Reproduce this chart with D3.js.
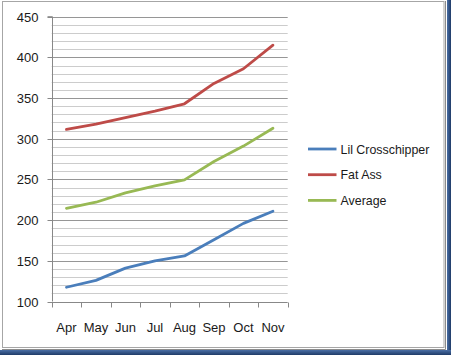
<!DOCTYPE html>
<html>
<head>
<meta charset="utf-8">
<script src="https://cdn.jsdelivr.net/npm/d3@7"></script>
<style>
html,body{margin:0;padding:0;background:#fff;}
svg{display:block;}
</style>
</head>
<body>
<svg id="chart" width="451" height="355"></svg>
<script>
const months = ["Apr","May","Jun","Jul","Aug","Sep","Oct","Nov"];
const lilCrosschipper = [117.5,126,141,150,156,176,196,211];
const fatAss = [311.5,318,326,334,343,368,386,415];
const average = [214.5,222,233.5,242,249.5,272,291,313];
const yTickLabels = [100,150,200,250,300,350,400,450];
const seriesNames = ["Lil Crosschipper","Fat Ass","Average"];
const seriesColors = ["#4A7EBB","#BE4B48","#98B954"];
const seriesValues = [lilCrosschipper, fatAss, average];

const svg = d3.select("#chart");
const W = 451, H = 355;

// frame with shadow
const shadow = svg.append("defs").append("linearGradient").attr("id","sh").attr("x1",0).attr("x2",1);
shadow.append("stop").attr("offset","0%").attr("stop-color","#4a6fa5");
shadow.append("stop").attr("offset","100%").attr("stop-color","#1f3b68");
const shadowV = svg.select("defs").append("linearGradient").attr("id","shv").attr("x1",0).attr("x2",0).attr("y1",0).attr("y2",1);
shadowV.append("stop").attr("offset","0%").attr("stop-color","#4a6fa5");
shadowV.append("stop").attr("offset","100%").attr("stop-color","#1f3b68");
svg.append("rect").attr("x",447).attr("y",0).attr("width",4).attr("height",H).attr("fill","url(#sh)");
svg.append("rect").attr("x",0).attr("y",350).attr("width",W).attr("height",5).attr("fill","url(#shv)");
svg.append("rect").attr("x",2.5).attr("y",1.5).attr("width",441.5).attr("height",346)
  .attr("fill","none").attr("stroke","#a6a6a6").attr("stroke-width",1);
svg.append("path").attr("d","M445.5,1 V349.5 H2").attr("fill","none").attr("stroke","#8c8c8c").attr("stroke-width",1);

const x = d3.scalePoint().domain(months).range([51.7,287.7]).padding(0.5);
const xBand = d3.scaleBand().domain(months).range([51.7,287.7]);
const y = d3.scaleLinear().domain([100,450]).range([301.5,16.7]);
const plotL = 51.7, plotR = 287.7;

// minor gridlines
const g = svg.append("g");
g.selectAll("line.minor").data(d3.range(110,450,10).filter(v=>v%50!==0))
  .join("line").attr("class","minor")
  .attr("x1",plotL).attr("x2",plotR)
  .attr("y1",d=>Math.round(y(d))+0.5).attr("y2",d=>Math.round(y(d))+0.5)
  .attr("stroke","#cccccc").attr("stroke-width",1);
// major gridlines
g.selectAll("line.major").data(yTickLabels.filter(v=>v!==100))
  .join("line").attr("class","major")
  .attr("x1",plotL).attr("x2",plotR)
  .attr("y1",d=>Math.round(y(d))+0.5).attr("y2",d=>Math.round(y(d))+0.5)
  .attr("stroke","#969696").attr("stroke-width",1);

// Y axis
const yAxis = d3.axisLeft(y).tickValues(yTickLabels).tickSize(5).tickPadding(9).tickFormat(d3.format("d"));
const ya = svg.append("g").attr("transform",`translate(${Math.round(plotL)+0.5},0)`).call(yAxis);
ya.select(".domain").attr("stroke","#888").attr("d",`M-5,${y(450)}H0V${y(100)}`);
ya.selectAll(".tick").attr("transform",d=>`translate(0,${Math.round(y(d))+0.5})`);
ya.selectAll(".tick line").attr("stroke","#888");
ya.selectAll("text").attr("font-family","'Liberation Sans',Arial,sans-serif").attr("font-size","13px").attr("fill","#1a1a1a");

// X axis
const xAxis = d3.axisBottom(xBand).tickSize(0).tickPadding(0).tickFormat("");
const xa = svg.append("g").attr("transform",`translate(0,${Math.round(y(100))+0.5})`);
xa.append("line").attr("x1",plotL).attr("x2",plotR).attr("stroke","#888");
const edges = months.map(m=>xBand(m)).concat([plotR]);
xa.selectAll("line.tk").data(edges).join("line").attr("class","tk")
  .attr("x1",d=>Math.round(d)+0.5).attr("x2",d=>Math.round(d)+0.5)
  .attr("y1",0).attr("y2",5).attr("stroke","#888");
xa.selectAll("text").data(months).join("text")
  .attr("x",d=>x(d)).attr("y",29)
  .attr("text-anchor","middle")
  .attr("font-family","'Liberation Sans',Arial,sans-serif").attr("font-size","13px").attr("fill","#1a1a1a")
  .text(d=>d);

// lines
const line = d3.line().x((d,i)=>x(months[i])).y(d=>y(d));
seriesValues.forEach((vals,i)=>{
  svg.append("path").datum(vals).attr("d",line)
    .attr("fill","none").attr("stroke",seriesColors[i]).attr("stroke-width",2.8)
    .attr("stroke-linejoin","round").attr("stroke-linecap","round");
});

// legend
const leg = svg.append("g").attr("transform","translate(308,149)");
seriesNames.forEach((n,i)=>{
  const gi = leg.append("g").attr("transform",`translate(0,${i*25.7})`);
  gi.append("line").attr("x1",0).attr("x2",28.5).attr("y1",0).attr("y2",0)
    .attr("stroke",seriesColors[i]).attr("stroke-width",2.8);
  gi.append("text").attr("x",32.5).attr("y",4.5)
    .attr("font-family","'Liberation Sans',Arial,sans-serif").attr("font-size","12.4px").attr("fill","#1a1a1a")
    .text(n);
});
</script>
</body>
</html>
